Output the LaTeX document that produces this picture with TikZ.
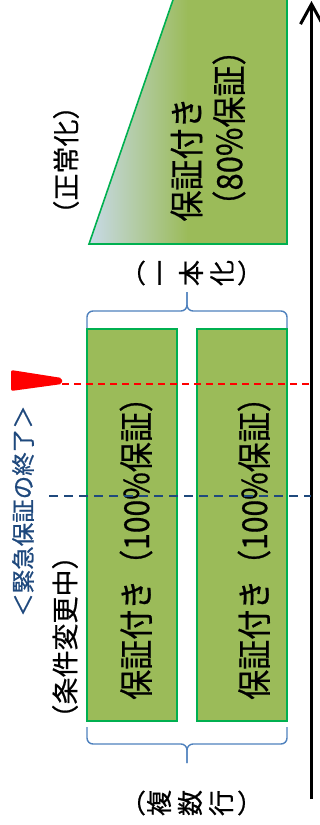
\documentclass[tikz,border=0pt]{standalone}
\usepackage{fontspec}
\newfontfamily\jp[FakeBold=0.6]{Noto Sans CJK JP}
\usetikzlibrary{arrows.meta}
\definecolor{boxgreen}{HTML}{9BBB59}
\definecolor{boxedge}{HTML}{00B050}
\definecolor{trapblue}{RGB}{200,218,232}
\definecolor{bracecol}{HTML}{4F81BD}
\definecolor{endblue}{HTML}{1F497D}
\pgfdeclarehorizontalshading{trapfade}{100bp}{color(0bp)=(trapblue); color(25bp)=(trapblue); color(50bp)=(boxgreen); color(100bp)=(boxgreen)}

\begin{document}
\begin{tikzpicture}[x=1pt, y=-1pt, font=\jp,
  gbox/.style={draw=boxedge, fill=boxgreen, line width=1.6pt, inner sep=0pt, minimum width=90pt, minimum height=392pt},
  bigtxt/.style={rotate=90, yscale=1.15, font=\jp\fontsize{30}{43}\selectfont},
  sidetxt/.style={rotate=90, font=\jp\fontsize{27}{30}\selectfont},
  chr/.style={font=\jp\fontsize{26}{30}\selectfont, inner sep=0pt},
  bracket/.style={draw=bracecol, line width=1.4pt, rounded corners=6pt},
  cutline/.style={line width=2pt, dash pattern=on 7pt off 5pt}]
\useasboundingbox (0,0) rectangle (320,825);
\clip (0,0) rectangle (320,825);

% time axis
\coordinate (axbot) at (311.5,799);
\coordinate (axtop) at (311.5,1);
\draw[line width=3pt, -{Straight Barb[length=20pt,width=22pt]}] (axbot) -- (axtop);

% after: one line, 80%
\shadedraw[shading=trapfade, draw=boxedge, line width=1.6pt] (89,244) -- (287,244) -- (287,-10) -- (176.4,-10) -- cycle;
\node[rotate=90, yscale=1.12, align=left, font=\jp\fontsize{31}{38}\selectfont] (traptxt) at (208,128) {保証付き\\（80\%保証）};
\node[sidetxt] (normal) at (66,160) {（正常化）};

% before: several lines, 100%
\node[gbox] (rowa) at (132,525) {};
\node[gbox] (rowb) at (242,525) {};
\node[bigtxt] (rowatxt) at (136,541) {保証付き（100\%保証）};
\node[bigtxt] (rowbtxt) at (254,541) {保証付き（100\%保証）};

% braces
\draw[bracket] (87,328) -- (87,311) -- (187,311) -- (187,292);
\draw[bracket] (287,328) -- (287,311) -- (187,311) -- (187,292);
\draw[bracket] (87,727) -- (87,744) -- (187,744) -- (187,763);
\draw[bracket] (287,727) -- (287,744) -- (187,744) -- (187,763);

\node[chr] (ita) at (133,273) {（};
\node[chr, rotate=90] (itb) at (164,273) {一};
\node[chr, rotate=90] (itc) at (191,273) {本};
\node[chr, rotate=90] (itd) at (222,273) {化};
\node[chr] (ite) at (250,273) {）};

\node[chr] (fua) at (133,803) {（};
\node[chr, rotate=90] (fub) at (159,803) {複};
\node[chr, rotate=90] (fuc) at (190,803) {数};
\node[chr, rotate=90] (fud) at (221,803) {行};
\node[chr] (fue) at (250,803) {）};

% end of emergency guarantee
\fill[red, rounded corners=2pt] (11,370) -- (62,378) -- (62,384) -- (11,391) -- cycle;
\coordinate (flagtip) at (62,384);
\coordinate (flagend) at (311,384);
\draw[red, cutline] (flagtip) -- (flagend);
\coordinate (chgstart) at (49,496);
\coordinate (chgend) at (311,496);
\draw[endblue, line width=2pt, dash pattern=on 9pt off 6pt] (chgstart) -- (chgend);
\node[rotate=90, text=endblue, font=\jp\fontsize{23.5}{26}\selectfont] (endnote) at (23,511) {＜緊急保証の終了＞};
\node[sidetxt] (change) at (65,637) {（条件変更中）};
\end{tikzpicture}
\end{document}
